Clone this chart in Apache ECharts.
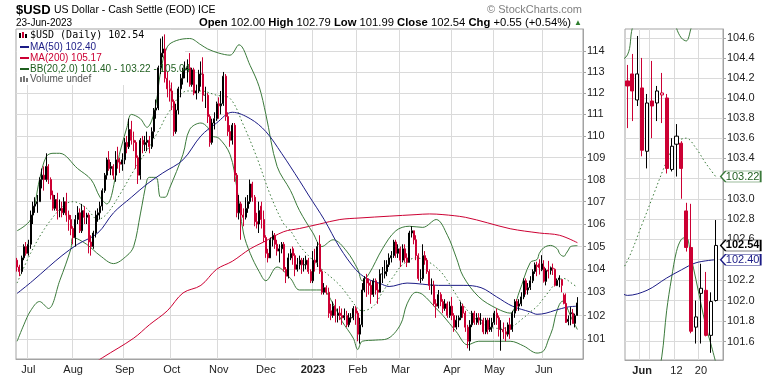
<!DOCTYPE html>
<html>
<head>
<meta charset="utf-8">
<script src="https://cdn.jsdelivr.net/npm/echarts@6/dist/echarts.min.js"></script>
<style>
  html, body { margin: 0; padding: 0; background: #fff; }
  #chart { width: 770px; height: 376px; }
</style>
</head>
<body>
<div id="chart"></div>
<script>
// trading calendar (US holidays skipped)
const holidays = ['2022-07-04', '2022-09-05', '2022-11-24', '2022-12-26', '2023-01-02',
  '2023-01-16', '2023-02-20', '2023-04-07', '2023-05-29', '2023-06-19'];
const firstDay = '2022-06-24';
const lastDay = '2023-06-23';

// daily bars: [open, high, low, close]
const ohlc = [
  // Jun 2022
  [104.4,104.5,103.9,104.1],[104.1,104.2,103.7,103.9],[103.9,104.6,103.8,104.5],[104.5,105.1,104.4,105.0],[105.0,105.2,104.6,104.7],
  // Jul
  [104.7,105.3,104.6,105.1],[105.1,106.6,104.9,106.4],[106.4,107.0,106.0,106.8],[106.8,107.2,106.5,106.9],[106.9,107.3,106.5,107.0],
  [107.0,108.1,107.0,108.0],[108.0,108.5,107.6,108.2],[108.2,108.6,107.5,108.0],[108.0,109.2,107.9,108.6],[108.6,108.7,107.8,108.0],
  [108.0,108.1,107.1,107.3],[107.3,107.5,106.6,106.7],[106.7,107.3,106.6,107.1],[107.1,107.4,106.2,106.6],[106.6,107.1,106.3,106.7],
  [106.7,107.0,106.3,106.5],[106.5,107.2,106.4,107.0],[107.0,107.4,106.1,106.4],[106.4,106.6,105.7,106.2],[106.2,106.4,105.5,105.8],
  // Aug
  [105.8,105.9,105.1,105.4],[105.4,106.4,105.0,106.2],[106.2,106.8,106.0,106.5],[106.5,106.7,105.6,105.7],[105.7,106.9,105.6,106.6],
  [106.6,106.8,106.0,106.3],[106.3,106.5,106.0,106.4],[106.4,106.5,104.7,105.2],[105.2,105.5,104.6,105.0],[105.0,105.7,104.9,105.6],
  [105.6,106.6,105.4,106.4],[106.4,106.7,106.1,106.5],[106.5,107.0,106.2,106.8],[106.8,107.6,106.6,107.5],[107.5,108.3,107.4,108.2],
  [108.2,109.0,108.0,108.9],[108.9,109.3,108.4,108.5],[108.5,108.8,108.2,108.6],[108.6,108.7,108.0,108.2],[108.2,109.3,107.9,108.9],
  [108.9,109.5,108.5,108.8],[108.8,109.0,108.3,108.7],[108.7,109.2,108.4,108.9],
  // Sep
  [108.9,109.9,108.7,109.7],[109.7,110.0,109.2,109.5],[109.5,110.8,109.4,110.3],[110.3,110.7,109.6,109.8],[109.8,110.2,109.3,109.7],
  [109.7,109.8,108.5,109.0],[109.0,109.1,107.8,108.2],[108.2,109.9,108.0,109.8],[109.8,110.0,109.2,109.6],[109.6,110.0,109.3,109.7],
  [109.7,110.2,109.3,109.8],[109.8,110.0,109.2,109.5],[109.5,110.4,109.4,110.2],[110.2,111.3,109.9,111.2],[111.2,111.7,110.8,111.3],
  [111.3,113.3,111.2,113.2],[113.2,114.6,112.9,113.9],[113.9,114.7,113.7,114.1],[114.1,114.8,112.5,112.7],[112.7,113.0,111.8,112.2],
  [112.2,112.6,111.6,112.1],
  // Oct
  [112.1,112.5,111.2,111.6],[111.6,111.7,110.0,110.2],[110.2,111.5,110.1,111.2],[111.2,112.3,111.0,112.2],[112.2,112.9,111.8,112.7],
  [112.7,113.2,112.4,113.1],[113.1,113.5,112.7,113.1],[113.1,113.6,112.5,113.2],[113.2,113.9,112.3,112.4],[112.4,113.2,112.3,113.1],
  [113.1,113.2,111.9,112.0],[112.0,112.4,111.7,112.1],[112.1,113.1,112.0,112.9],[112.9,113.5,112.3,112.9],[112.9,113.7,111.6,111.9],
  [111.9,112.3,111.3,111.9],[111.9,112.0,110.6,110.9],[110.9,111.0,109.5,109.7],[109.7,110.8,109.6,110.6],[110.6,111.1,110.3,110.8],
  [110.8,111.6,110.7,111.5],
  // Nov
  [111.5,111.8,110.8,111.4],[111.4,112.1,111.0,111.5],[111.5,113.0,111.4,112.8],[112.8,112.9,110.7,110.9],[110.9,111.1,110.0,110.2],
  [110.2,110.5,109.5,109.8],[109.8,110.6,109.6,110.5],[110.5,110.6,107.9,108.2],[108.2,108.3,106.3,106.5],[106.5,107.3,106.2,106.9],
  [106.9,107.0,105.3,106.4],[106.4,106.7,105.9,106.3],[106.3,107.2,106.2,106.7],[106.7,107.3,106.5,107.0],[107.0,108.0,106.9,107.8],
  [107.8,107.9,107.0,107.2],[107.2,107.3,105.9,106.1],[106.1,106.5,105.8,106.0],[106.0,107.0,105.6,106.6],[106.8,107.0,105.8,106.2],
  [106.2,106.6,105.2,105.4],
  // Dec
  [105.4,105.5,104.5,104.7],[104.7,104.9,104.3,104.5],[104.5,105.4,104.5,105.3],[105.3,105.7,105.0,105.5],[105.5,105.6,104.9,105.1],
  [105.1,105.3,104.6,104.8],[104.8,105.1,104.3,104.9],[104.9,105.2,104.7,105.1],[105.1,105.2,103.9,104.0],[104.0,104.1,103.4,103.7],
  [103.7,104.7,103.6,104.5],[104.5,104.9,104.4,104.7],[104.9,105.0,104.2,104.6],[104.6,104.7,103.7,104.0],[104.0,104.5,103.9,104.2],
  [104.2,104.6,104.0,104.4],[104.4,104.5,103.8,104.2],[104.2,104.5,103.9,104.2],[104.2,104.6,104.0,104.4],[104.4,104.5,103.8,103.9],
  [103.9,104.0,103.4,103.5],
  // Jan 2023
  [103.5,104.8,103.4,104.4],[104.4,104.9,103.9,104.3],[104.3,105.2,104.1,105.0],[105.1,105.5,103.8,103.9],[103.9,104.0,102.9,103.0],
  [103.0,103.4,102.9,103.2],[103.2,103.3,102.9,103.0],[103.0,103.2,101.9,102.1],[102.2,102.5,101.8,102.0],[102.0,102.6,101.9,102.4],
  [102.4,102.7,101.7,102.0],[102.0,102.3,101.7,102.1],[102.1,102.4,101.8,102.0],[102.0,102.3,101.6,101.9],[101.9,102.3,101.8,102.0],
  [102.0,102.2,101.5,101.6],[101.6,102.1,101.5,101.9],[101.9,102.1,101.7,101.9],[101.9,102.4,101.8,102.3],[102.3,102.4,101.6,102.1],
  // Feb
  [102.1,102.2,100.9,101.2],[101.2,101.9,100.8,101.6],[101.6,103.4,101.5,103.1],[103.1,103.7,103.0,103.6],[103.6,103.8,102.8,103.4],
  [103.4,103.6,102.9,103.3],[103.3,103.5,102.5,102.9],[102.9,103.6,102.8,103.5],[103.5,103.6,102.9,103.1],[103.1,103.4,102.5,103.0],
  [103.0,104.0,103.0,103.8],[103.8,104.1,103.4,103.8],[103.8,104.4,103.6,103.9],[103.9,104.4,103.7,104.2],[104.2,104.7,104.1,104.5],
  [104.5,104.8,104.3,104.6],[104.6,105.3,104.5,105.2],[105.2,105.3,104.5,104.7],[104.7,105.1,104.5,104.9],
  // Mar
  [104.9,105.0,104.1,104.4],[104.4,105.1,104.3,104.9],[104.9,105.1,104.3,104.5],[104.5,104.7,104.1,104.3],[104.3,105.7,104.3,105.6],
  [105.6,105.9,105.4,105.7],[105.7,105.7,105.1,105.3],[105.3,105.5,104.4,104.6],[104.6,104.7,103.5,103.6],[103.6,104.0,103.4,103.6],
  [103.6,105.1,103.5,104.6],[104.6,104.8,104.2,104.4],[104.4,104.5,103.8,103.9],[103.9,104.0,103.1,103.3],[103.3,103.6,102.9,103.3],
  [103.3,103.5,102.4,102.5],[102.5,102.7,101.9,102.4],[102.4,103.1,102.3,102.9],[102.9,103.0,102.4,102.6],[102.6,102.7,102.1,102.3],
  [102.3,102.7,102.2,102.5],[102.5,102.6,101.9,102.0],[102.0,102.6,101.9,102.4],
  // Apr
  [102.4,102.8,101.8,102.0],[102.0,102.1,101.3,101.5],[101.5,102.0,101.4,101.8],[101.8,102.0,101.5,101.9],[101.9,102.6,101.8,102.4],
  [102.4,102.5,101.9,102.1],[102.1,102.2,101.3,101.5],[101.5,101.6,100.6,100.9],[100.9,101.8,100.5,101.6],[101.6,102.2,101.5,102.1],
  [102.1,102.2,101.6,101.7],[101.7,102.1,101.6,101.9],[101.9,102.1,101.6,101.8],[101.8,102.1,101.6,101.8],[101.8,101.9,101.2,101.3],
  [101.3,101.9,101.2,101.8],[101.8,101.9,101.2,101.4],[101.4,101.9,101.3,101.5],[101.5,101.9,101.3,101.7],
  // May
  [101.7,102.2,101.6,102.1],[102.1,102.3,101.6,101.9],[101.9,102.0,101.1,101.4],[101.4,101.8,100.5,101.4],[101.4,101.7,101.0,101.3],
  [101.3,101.5,100.9,101.2],[101.2,101.7,101.1,101.6],[101.6,101.9,101.0,101.4],[101.4,102.2,101.3,102.1],[102.1,102.7,101.9,102.6],
  [102.6,102.7,102.2,102.4],[102.4,102.7,102.2,102.5],[102.5,103.0,102.4,102.8],[102.8,103.6,102.7,103.5],[103.5,103.6,102.9,103.1],
  [103.1,103.4,102.9,103.2],[103.2,103.7,103.1,103.5],[103.5,104.0,103.4,103.9],[103.9,104.3,103.8,104.2],[104.17,104.33,103.70,104.12],
  [104.24,104.44,103.77,104.07],[103.98,104.62,103.92,104.24],
  // Jun
  [104.10,104.40,103.42,103.48],[103.47,104.04,103.30,103.95],[103.97,104.37,103.60,103.92],[103.95,104.12,103.77,104.07],
  [104.03,104.25,103.75,104.05],[104.00,104.04,103.25,103.30],[103.29,103.60,103.27,103.52],[103.54,103.74,103.22,103.62],
  [103.55,103.57,103.00,103.30],[102.88,102.96,102.48,102.52],[102.52,102.95,101.68,101.70],[101.74,102.00,101.58,101.84],
  [102.07,102.36,101.58,102.12],[102.10,102.28,101.65,101.66],[101.66,102.08,101.49,101.99],[102.00,102.79,101.99,102.54]
];

// overlays: [bar index, value]
const ma50 = [[0,102.95],[7,103.5],[14,104.1],[20,104.6],[27,105.1],[36,105.6],[43,106.5],[51,107.2],[58,107.8],
  [65,108.3],[74,108.9],[82,110.0],[89,110.6],[96,111.1],[104,110.8],[111,110.2],[118,109.2],[126,107.95],[130,107.3],
  [137,106.2],[144,104.95],[151,104.0],[156,103.6],[162,103.38],[166,103.25],[174,103.4],[188,103.3],[199,103.3],
  [207,103.2],[214,102.8],[221,102.4],[229,102.15],[232,102.05],[236,102.1],[240,102.22],[243,102.3],[246,102.37],[250,102.40]];
const ma200 = [[30,99.7],[38,100.2],[52,101.03],[59,101.6],[67,102.2],[74,102.97],[82,103.3],[89,104.0],[96,104.35],
  [104,104.9],[110,105.2],[119,105.66],[126,105.8],[135,106.0],[144,106.2],[153,106.27],[166,106.35],[178,106.42],
  [184,106.45],[190,106.42],[200,106.3],[210,106.05],[220,105.79],[233,105.6],[242,105.5],[250,105.17]];
const bbUpper = [[0,105.7],[6,106.2],[10,108.0],[13,109.05],[16,109.2],[19,109.2],[27,108.5],[33,108.0],[37,107.2],
  [40,106.9],[46,109.3],[49,110.4],[51,111.0],[55,110.8],[58,110.4],[60,110.7],[62,111.5],[64,113.0],[67,114.2],
  [71,114.5],[77,114.6],[82,114.3],[85,114.1],[90,113.9],[95,113.8],[99,114.3],[104,113.3],[108,112.3],[111,111.0],
  [116,108.6],[122,107.5],[126,106.6],[132,105.6],[136,105.0],[141,105.3],[147,104.8],[152,104.0],[154,103.5],
  [157,103.8],[163,104.9],[169,105.7],[175,105.9],[181,105.85],[187,106.2],[192,105.5],[196,104.5],[199,103.7],
  [206,102.8],[214,102.3],[220,102.1],[224,103.0],[229,104.3],[232,104.43],[233,104.7],[235,104.95],[238,105.05],
  [241,104.9],[242,104.7],[243,104.6],[244,104.57],[245,104.7],[246,104.85],[247,105.0],[250,105.04]];
const bbMid = [[0,103.4],[6,104.7],[13,105.9],[21,106.85],[25,107.0],[31,106.7],[36,106.2],[40,106.45],[46,107.35],
  [52,108.4],[58,109.35],[64,110.4],[67,111.0],[76,112.1],[82,112.1],[89,111.9],[95,111.75],[101,110.5],[107,109.0],
  [113,107.3],[119,106.0],[122,105.7],[126,105.05],[130,104.6],[136,104.0],[144,103.3],[152,102.3],[154,102.2],
  [159,102.4],[163,103.0],[168,103.7],[172,104.2],[178,104.5],[184,104.3],[189,103.9],[192,103.5],[199,102.45],
  [206,101.75],[214,101.45],[220,101.5],[226,101.9],[229,102.15],[232,102.39],[235,102.75],[237,103.0],[240,103.37],
  [242,103.56],[244,103.6],[246,103.5],[248,103.35],[250,103.22]];
const bbLower = [[0,100.9],[3,101.6],[6,102.2],[10,102.6],[14,102.3],[19,103.5],[24,104.9],[25,105.4],[31,105.1],
  [37,104.6],[43,104.25],[49,104.6],[52,105.0],[55,106.45],[58,108.0],[59,108.1],[62,108.1],[64,107.2],[66,107.2],
  [68,107.6],[74,109.15],[77,110.3],[82,110.6],[85,110.4],[87,110.0],[90,109.9],[95,109.15],[98,107.65],[101,105.6],
  [104,104.7],[108,103.9],[111,103.5],[116,104.1],[122,103.6],[126,103.1],[136,103.1],[141,102.5],[145,101.75],
  [150,101.03],[152,100.55],[154,100.9],[160,100.95],[165,101.0],[171,101.6],[174,102.5],[178,103.0],[181,102.9],
  [187,102.3],[190,102.0],[196,101.3],[201,100.75],[206,100.9],[220,100.9],[226,100.7],[232,100.4],[235,100.5],
  [237,100.95],[239,101.45],[240,101.9],[241,102.22],[242,102.48],[243,102.6],[244,102.62],[245,102.42],[246,102.2],
  [247,101.97],[248,101.75],[249,101.58],[250,101.40]];

const priceTicks = [101, 102, 103, 104, 105, 106, 107, 108, 109, 110, 111, 112, 113, 114];
const zoomTicks = [101.6, 101.8, 102.0, 102.2, 102.4, 102.6, 102.8, 103.0, 103.2, 103.4, 103.6, 103.8, 104.0, 104.2, 104.4, 104.6];
const monthNames = ['Jan','Feb','Mar','Apr','May','Jun','Jul','Aug','Sep','Oct','Nov','Dec'];
const zoomBars = 19;
const zoomLabels = { '2023-06-01': 'Jun', '2023-06-12': '12', '2023-06-20': '20' };
const zoomGridDays = ['2023-06-01', '2023-06-05', '2023-06-12', '2023-06-20'];

const RED = '#cc0033', NAVY = '#1c1c86', GREEN = '#3b7a3b', GRID = '#dadada', FRAME = '#a3a3a3';
const FONT = '"Liberation Sans", Arial, sans-serif';
const lg = Math.log;

function tradingDays(from, to) {
  const out = [];
  const d = new Date(from + 'T00:00:00Z'), end = new Date(to + 'T00:00:00Z');
  while (d <= end) {
    const s = d.toISOString().slice(0, 10), wd = d.getUTCDay();
    if (wd !== 0 && wd !== 6 && holidays.indexOf(s) < 0) out.push(s);
    d.setUTCDate(d.getUTCDate() + 1);
  }
  return out;
}

const dates = tradingDays(firstDay, lastDay);
const mainCats = dates.concat(['pad1', 'pad2']);
const zoomStart = dates.length - zoomBars;
const zoomCats = dates.slice(zoomStart).concat(['pad']);

const monthStart = new Set();
dates.forEach((s, i) => { if (i > 0 && s.slice(5, 7) !== dates[i - 1].slice(5, 7)) monthStart.add(i); });

function candles(rows, offset) {
  return rows.map((r, k) => {
    const [o, h, l, c] = r;
    const prev = (offset + k) > 0 ? ohlc[offset + k - 1][3] : o;
    const ink = c >= prev ? '#000' : RED;
    const fill = c > o ? '#fff' : ink;
    return { value: [lg(o), lg(c), lg(l), lg(h)],
      itemStyle: { color: fill, color0: fill, borderColor: ink, borderColor0: ink } };
  });
}
function pts(list, shift) {
  return list.filter(p => p[0] - shift >= -8).map(p => [p[0] - shift, lg(p[1])]);
}
function lineSeries(name, list, color, grid, shift, dotted) {
  return {
    name, type: 'line', xAxisIndex: grid, yAxisIndex: grid, data: pts(list, shift),
    showSymbol: false, smooth: 0.35, silent: true, z: 3,
    lineStyle: { color, width: 1, type: dotted ? [1.5, 2.5] : 'solid' }
  };
}

const last = ohlc[ohlc.length - 1];
const lastOf = a => a[a.length - 1][1].toFixed(2);
const prevClose = ohlc[ohlc.length - 2][3];
const chg = last[3] - prevClose;

const tagPath = 'path://M0,5.5L5,0L40,0L40,11L5,11Z';
const tags = [
  { v: +lastOf(bbMid), color: GREEN, text: '#1f5f1f', bold: false },
  { v: last[3], color: '#000', text: '#000', bold: true },
  { v: +lastOf(ma50), color: NAVY, text: NAVY, bold: false }
];

const chart = echarts.init(document.getElementById('chart'), null, { renderer: 'canvas' });

const option = {
  animation: false,
  backgroundColor: '#fff',
  textStyle: { fontFamily: FONT },
  grid: [
    { left: 16, top: 29, width: 567, height: 330, show: true, borderColor: FRAME, borderWidth: 1 },
    { left: 625, top: 29, width: 98, height: 331, show: true, borderColor: FRAME, borderWidth: 1 }
  ],
  xAxis: [
    {
      type: 'category', gridIndex: 0, data: mainCats, boundaryGap: true,
      axisLine: { show: true, lineStyle: { color: FRAME } }, axisTick: { show: false },
      axisLabel: {
        interval: i => monthStart.has(i), color: '#222', fontSize: 11, margin: 5, fontFamily: FONT,
        formatter: v => { const m = +v.slice(5, 7); return m === 1 ? '{y|' + v.slice(0, 4) + '}' : monthNames[m - 1]; },
        rich: { y: { fontWeight: 'bold', fontSize: 11, fontFamily: FONT, color: '#222' } }
      },
      splitLine: { show: true, interval: i => monthStart.has(i), lineStyle: { color: GRID, width: 1 } }
    },
    {
      type: 'category', gridIndex: 1, data: zoomCats, boundaryGap: true,
      axisLine: { show: true, lineStyle: { color: FRAME } }, axisTick: { show: false },
      axisLabel: {
        interval: (i, v) => v in zoomLabels, color: '#222', fontSize: 11, margin: 5, fontFamily: FONT,
        formatter: v => v === '2023-06-01' ? '{b|Jun}' : (zoomLabels[v] || ''),
        rich: { b: { fontWeight: 'bold', fontSize: 11, fontFamily: FONT, color: '#222' } }
      },
      splitLine: { show: true, interval: (i, v) => zoomGridDays.indexOf(v) >= 0, lineStyle: { color: GRID, width: 1 } }
    }
  ],
  yAxis: [
    {
      type: 'value', gridIndex: 0, position: 'right', min: lg(100.15), max: lg(115.06),
      axisLine: { show: true, lineStyle: { color: FRAME } },
      axisTick: { show: true, length: 3, customValues: priceTicks.map(lg), lineStyle: { color: FRAME } },
      axisLabel: { customValues: priceTicks.map(lg), formatter: v => Math.round(Math.exp(v)), color: '#222', fontSize: 11, margin: 4, fontFamily: FONT },
      splitLine: { show: true, lineStyle: { color: GRID, width: 1 } }
    },
    {
      type: 'value', gridIndex: 1, position: 'right', min: lg(101.42), max: lg(104.69),
      axisLine: { show: true, lineStyle: { color: FRAME } },
      axisTick: { show: true, length: 3, customValues: zoomTicks.map(lg), lineStyle: { color: FRAME } },
      axisLabel: { customValues: zoomTicks.map(lg), formatter: v => Math.exp(v).toFixed(1), color: '#222', fontSize: 11, margin: 4, fontFamily: FONT },
      splitLine: { show: true, lineStyle: { color: GRID, width: 1 } }
    }
  ],
  series: [
    lineSeries('MA(200)', ma200, RED, 0, 0),
    lineSeries('BB upper', bbUpper, GREEN, 0, 0),
    lineSeries('BB lower', bbLower, GREEN, 0, 0),
    lineSeries('BB mid', bbMid, GREEN, 0, 0, true),
    lineSeries('MA(50)', ma50, NAVY, 0, 0),
    {
      name: '$USD', type: 'candlestick', xAxisIndex: 0, yAxisIndex: 0, barWidth: 1.5, z: 4, silent: true,
      data: candles(ohlc, 0), itemStyle: { borderWidth: 1 }
    },
    lineSeries('BB upper z', bbUpper, GREEN, 1, zoomStart),
    lineSeries('BB lower z', bbLower, GREEN, 1, zoomStart),
    lineSeries('BB mid z', bbMid, GREEN, 1, zoomStart, true),
    lineSeries('MA(50) z', ma50, NAVY, 1, zoomStart),
    {
      name: '$USD z', type: 'candlestick', xAxisIndex: 1, yAxisIndex: 1, barWidth: 3.6, z: 4, silent: true,
      data: candles(ohlc.slice(zoomStart), zoomStart), itemStyle: { borderWidth: 1 }
    },
    {
      name: 'tags', type: 'scatter', xAxisIndex: 1, yAxisIndex: 1, clip: false, silent: true, z: 10,
      data: tags.map(t => ({
        value: [zoomBars - 1, lg(t.v)],
        symbol: tagPath, symbolSize: [40, 11], symbolKeepAspect: false, symbolOffset: [25, 0],
        itemStyle: { color: '#fff', borderColor: t.color, borderWidth: 1, opacity: 1 },
        label: {
          show: true, position: 'inside', offset: [2, 0], formatter: t.v.toFixed(2), color: t.text,
          fontSize: 11, fontWeight: t.bold ? 'bold' : 'normal', fontFamily: FONT
        }
      }))
    }
  ],
  graphic: [
    { type: 'rect', z: 1, silent: true, shape: { x: 17, y: 30, width: 168, height: 55 }, style: { fill: '#fff' } },
    { type: 'text', z: 20, x: 16, y: 10, style: { text: '$USD', font: 'bold 13px ' + FONT, fill: '#000', textVerticalAlign: 'middle', verticalAlign: 'middle' } },
    { type: 'text', z: 20, x: 54, y: 10, style: { text: 'US Dollar - Cash Settle (EOD) ICE', font: '10.5px ' + FONT, fill: '#000', textVerticalAlign: 'middle', verticalAlign: 'middle' } },
    { type: 'text', z: 20, x: 16, y: 23, style: { text: '23-Jun-2023', font: '10px ' + FONT, fill: '#000', textVerticalAlign: 'middle', verticalAlign: 'middle' } },
    { type: 'text', z: 20, x: 582, y: 10, style: { text: '\u00a9 StockCharts.com', font: '11px ' + FONT, fill: '#808080', textAlign: 'right', align: 'right', textVerticalAlign: 'middle', verticalAlign: 'middle' } },
    {
      type: 'text', z: 20, x: 582, y: 23,
      style: {
        text: '{b|Open} ' + last[0].toFixed(2) + ' {b|High} ' + last[1].toFixed(2) + ' {b|Low} ' + last[2].toFixed(2) +
          ' {b|Close} ' + last[3].toFixed(2) + ' {b|Chg} +' + chg.toFixed(2) + ' (+' + (chg / prevClose * 100).toFixed(2) + '%) {t|\u25b2}',
        font: '11.25px ' + FONT, fill: '#000', textAlign: 'right', align: 'right', textVerticalAlign: 'middle', verticalAlign: 'middle',
        rich: { b: { fontWeight: 'bold', fontSize: 11.25, fontFamily: FONT }, t: { fill: '#2d7d2d', fontSize: 8 } }
      }
    },
    // legend block
    { type: 'rect', z: 20, silent: true, shape: { x: 19, y: 33, width: 2, height: 5 }, style: { fill: '#000' } },
    { type: 'rect', z: 20, silent: true, shape: { x: 22, y: 32, width: 2, height: 6 }, style: { fill: RED } },
    { type: 'rect', z: 20, silent: true, shape: { x: 25, y: 34, width: 2, height: 4 }, style: { fill: '#000' } },
    { type: 'text', z: 20, x: 30, y: 35.5, style: { text: '$USD (Daily) ' + last[3].toFixed(2), font: '10px "DejaVu Sans Mono", monospace', fill: '#000', textVerticalAlign: 'middle', verticalAlign: 'middle' } },
    { type: 'rect', z: 20, silent: true, shape: { x: 20, y: 46, width: 9, height: 2 }, style: { fill: NAVY } },
    { type: 'text', z: 20, x: 30, y: 47, style: { text: 'MA(50) ' + lastOf(ma50), font: '10px ' + FONT, fill: NAVY, textVerticalAlign: 'middle', verticalAlign: 'middle' } },
    { type: 'rect', z: 20, silent: true, shape: { x: 20, y: 57, width: 9, height: 2 }, style: { fill: RED } },
    { type: 'text', z: 20, x: 30, y: 58, style: { text: 'MA(200) ' + lastOf(ma200), font: '10px ' + FONT, fill: RED, textVerticalAlign: 'middle', verticalAlign: 'middle' } },
    { type: 'rect', z: 20, silent: true, shape: { x: 20, y: 68, width: 9, height: 2 }, style: { fill: '#1f5f1f' } },
    { type: 'text', z: 20, x: 30, y: 69, style: { text: 'BB(20,2.0) ' + lastOf(bbLower) + ' - ' + lastOf(bbMid) + ' - ' + lastOf(bbUpper), font: '10px ' + FONT, fill: '#1f5f1f', textVerticalAlign: 'middle', verticalAlign: 'middle' } },
    { type: 'rect', z: 20, silent: true, shape: { x: 20, y: 77, width: 2, height: 5 }, style: { fill: '#777' } },
    { type: 'rect', z: 20, silent: true, shape: { x: 23, y: 76, width: 2, height: 6 }, style: { fill: '#777' } },
    { type: 'rect', z: 20, silent: true, shape: { x: 26, y: 78, width: 2, height: 4 }, style: { fill: '#777' } },
    { type: 'text', z: 20, x: 30, y: 79.5, style: { text: 'Volume undef', font: '10px ' + FONT, fill: '#555', textVerticalAlign: 'middle', verticalAlign: 'middle' } }
  ]
};

chart.setOption(option);
</script>
</body>
</html>
